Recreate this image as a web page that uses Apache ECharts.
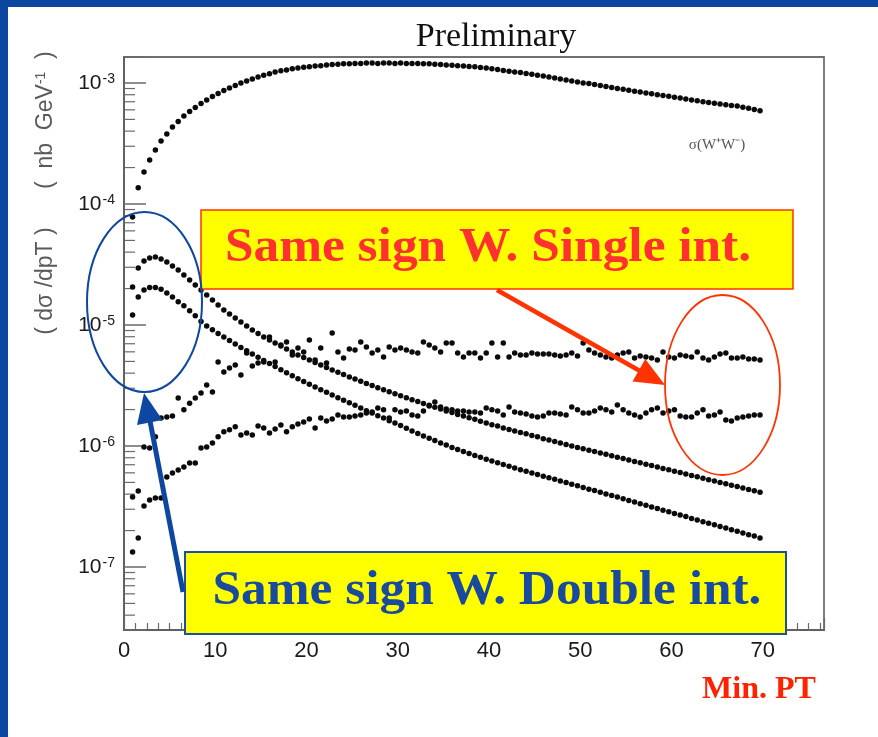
<!DOCTYPE html>
<html><head><meta charset="utf-8">
<script src="https://cdn.jsdelivr.net/npm/echarts@6/dist/echarts.min.js"></script>
<style>html,body{margin:0;padding:0;background:#fff}#c{width:878px;height:737px}</style>
</head><body><div id="c"></div><script>
// bin centres (Min. PT, GeV)
const minPT = [0.94,1.56,2.19,2.81,3.44,4.06,4.69,5.31,5.94,6.56,
7.19,7.81,8.44,9.06,9.69,10.31,10.94,11.56,12.19,12.81,
13.44,14.06,14.69,15.31,15.94,16.56,17.19,17.81,18.44,19.06,
19.69,20.31,20.94,21.56,22.19,22.81,23.44,24.06,24.69,25.31,
25.94,26.56,27.19,27.81,28.44,29.06,29.69,30.31,30.94,31.56,
32.19,32.81,33.44,34.06,34.69,35.31,35.94,36.56,37.19,37.81,
38.44,39.06,39.69,40.31,40.94,41.56,42.19,42.81,43.44,44.06,
44.69,45.31,45.94,46.56,47.19,47.81,48.44,49.06,49.69,50.31,
50.94,51.56,52.19,52.81,53.44,54.06,54.69,55.31,55.94,56.56,
57.19,57.81,58.44,59.06,59.69,60.31,60.94,61.56,62.19,62.81,
63.44,64.06,64.69,65.31,65.94,66.56,67.19,67.81,68.44,69.06,
69.69];
// sigma(W+W-)
const sigmaWW = [7.8e-5,1.36e-4,1.84e-4,2.31e-4,2.80e-4,3.32e-4,3.79e-4,4.33e-4,4.81e-4,5.34e-4,
5.81e-4,6.28e-4,6.77e-4,7.24e-4,7.73e-4,8.18e-4,8.66e-4,9.09e-4,9.53e-4,1.00e-3,
1.04e-3,1.08e-3,1.12e-3,1.16e-3,1.19e-3,1.23e-3,1.26e-3,1.28e-3,1.31e-3,1.33e-3,
1.35e-3,1.36e-3,1.38e-3,1.39e-3,1.41e-3,1.42e-3,1.43e-3,1.44e-3,1.44e-3,1.45e-3,
1.45e-3,1.46e-3,1.46e-3,1.45e-3,1.46e-3,1.46e-3,1.45e-3,1.46e-3,1.45e-3,1.45e-3,
1.45e-3,1.44e-3,1.44e-3,1.43e-3,1.42e-3,1.41e-3,1.40e-3,1.39e-3,1.38e-3,1.37e-3,
1.36e-3,1.34e-3,1.33e-3,1.31e-3,1.29e-3,1.27e-3,1.25e-3,1.235e-3,1.22e-3,1.20e-3,
1.18e-3,1.16e-3,1.14e-3,1.12e-3,1.10e-3,1.08e-3,1.06e-3,1.04e-3,1.02e-3,1.00e-3,
9.9e-4,9.7e-4,9.55e-4,9.37e-4,9.2e-4,9.02e-4,8.87e-4,8.71e-4,8.55e-4,8.41e-4,
8.27e-4,8.14e-4,8.0e-4,7.88e-4,7.76e-4,7.63e-4,7.5e-4,7.38e-4,7.25e-4,7.13e-4,
7.0e-4,6.9e-4,6.81e-4,6.7e-4,6.62e-4,6.53e-4,6.45e-4,6.31e-4,6.19e-4,6.05e-4,
5.91e-4];
// same sign W, double interaction (upper / lower)
const doubleUpper = [2.06e-5,2.96e-5,3.38e-5,3.58e-5,3.65e-5,3.51e-5,3.32e-5,3.08e-5,2.85e-5,2.59e-5,
2.35e-5,2.14e-5,1.95e-5,1.77e-5,1.61e-5,1.46e-5,1.33e-5,1.23e-5,1.14e-5,1.06e-5,
9.8e-6,9.1e-6,8.5e-6,7.96e-6,7.52e-6,7.1e-6,6.7e-6,6.34e-6,5.98e-6,5.65e-6,
5.38e-6,5.14e-6,4.9e-6,4.67e-6,4.46e-6,4.25e-6,4.06e-6,3.89e-6,3.72e-6,3.57e-6,
3.43e-6,3.29e-6,3.16e-6,3.03e-6,2.91e-6,2.81e-6,2.70e-6,2.60e-6,2.50e-6,2.41e-6,
2.33e-6,2.24e-6,2.17e-6,2.09e-6,2.02e-6,1.95e-6,1.89e-6,1.82e-6,1.77e-6,1.71e-6,
1.66e-6,1.60e-6,1.55e-6,1.50e-6,1.46e-6,1.41e-6,1.37e-6,1.33e-6,1.29e-6,1.26e-6,
1.22e-6,1.19e-6,1.15e-6,1.12e-6,1.09e-6,1.06e-6,1.03e-6,1.0e-6,9.73e-7,9.48e-7,
9.23e-7,8.99e-7,8.75e-7,8.53e-7,8.30e-7,8.07e-7,7.87e-7,7.66e-7,7.46e-7,7.26e-7,
7.08e-7,6.89e-7,6.70e-7,6.53e-7,6.36e-7,6.19e-7,6.03e-7,5.87e-7,5.71e-7,5.57e-7,
5.42e-7,5.27e-7,5.14e-7,5.00e-7,4.87e-7,4.74e-7,4.62e-7,4.50e-7,4.38e-7,4.27e-7,
4.15e-7];
const doubleLower = [1.21e-5,1.70e-5,1.95e-5,2.04e-5,2.04e-5,1.97e-5,1.84e-5,1.70e-5,1.56e-5,1.44e-5,
1.31e-5,1.19e-5,1.07e-5,9.8e-6,9.12e-6,8.5e-6,7.96e-6,7.45e-6,6.97e-6,6.52e-6,
6.12e-6,5.75e-6,5.42e-6,5.09e-6,4.81e-6,4.53e-6,4.27e-6,4.03e-6,3.80e-6,3.59e-6,
3.41e-6,3.24e-6,3.08e-6,2.92e-6,2.78e-6,2.64e-6,2.51e-6,2.39e-6,2.28e-6,2.17e-6,
2.06e-6,1.96e-6,1.87e-6,1.78e-6,1.70e-6,1.62e-6,1.55e-6,1.48e-6,1.40e-6,1.33e-6,
1.27e-6,1.21e-6,1.16e-6,1.11e-6,1.06e-6,1.02e-6,9.73e-7,9.35e-7,9.01e-7,8.67e-7,
8.36e-7,8.07e-7,7.78e-7,7.52e-7,7.26e-7,7.02e-7,6.79e-7,6.58e-7,6.37e-7,6.17e-7,
5.98e-7,5.81e-7,5.62e-7,5.46e-7,5.30e-7,5.14e-7,4.99e-7,4.83e-7,4.69e-7,4.54e-7,
4.40e-7,4.28e-7,4.14e-7,4.01e-7,3.89e-7,3.78e-7,3.66e-7,3.55e-7,3.44e-7,3.33e-7,
3.24e-7,3.13e-7,3.04e-7,2.94e-7,2.86e-7,2.77e-7,2.69e-7,2.61e-7,2.52e-7,2.44e-7,
2.37e-7,2.30e-7,2.23e-7,2.16e-7,2.10e-7,2.03e-7,1.97e-7,1.91e-7,1.85e-7,1.80e-7,
1.74e-7];
// same sign W, single interaction (upper / lower)
const singleUpper = [3.79e-7,4.25e-7,9.8e-7,9.62e-7,1.19e-6,1.70e-6,1.74e-6,1.77e-6,2.49e-6,1.99e-6,
2.26e-6,2.49e-6,2.74e-6,3.19e-6,2.79e-6,4.94e-6,4.09e-6,4.42e-6,4.67e-6,3.86e-6,
5.87e-6,4.58e-6,4.85e-6,4.94e-6,7.96e-6,4.94e-6,6.84e-6,7.24e-6,5.65e-6,6.46e-6,
5.98e-6,7.52e-6,5.14e-6,6.46e-6,4.85e-6,8.59e-6,5.98e-6,5.33e-6,6.34e-6,6.21e-6,
7.24e-6,6.58e-6,5.87e-6,6.21e-6,5.44e-6,6.58e-6,6.21e-6,6.46e-6,6.21e-6,5.98e-6,
5.87e-6,7.24e-6,6.84e-6,6.46e-6,5.98e-6,7.10e-6,7.10e-6,5.87e-6,5.44e-6,5.87e-6,
5.87e-6,5.33e-6,5.87e-6,7.10e-6,5.44e-6,7.10e-6,5.44e-6,5.87e-6,5.65e-6,5.65e-6,
5.87e-6,5.75e-6,5.75e-6,5.75e-6,5.65e-6,5.54e-6,5.65e-6,5.87e-6,5.54e-6,7.10e-6,
6.21e-6,5.87e-6,5.65e-6,5.44e-6,5.33e-6,5.65e-6,5.87e-6,5.98e-6,5.33e-6,5.54e-6,
5.44e-6,5.33e-6,5.14e-6,5.98e-6,5.44e-6,5.33e-6,5.65e-6,5.54e-6,5.44e-6,5.98e-6,
5.33e-6,5.14e-6,5.44e-6,5.75e-6,5.87e-6,5.33e-6,5.33e-6,5.44e-6,5.24e-6,5.24e-6,
5.14e-6];
const singleLower = [1.33e-7,1.74e-7,3.19e-7,3.58e-7,3.72e-7,3.72e-7,5.54e-7,5.98e-7,6.34e-7,6.70e-7,
7.24e-7,7.24e-7,9.62e-7,9.8e-7,1.06e-6,1.19e-6,1.31e-6,1.36e-6,1.44e-6,1.23e-6,
1.28e-6,1.23e-6,1.46e-6,1.41e-6,1.28e-6,1.38e-6,1.49e-6,1.31e-6,1.44e-6,1.52e-6,
1.58e-6,1.67e-6,1.41e-6,1.70e-6,1.61e-6,1.67e-6,1.80e-6,1.74e-6,1.74e-6,1.77e-6,
1.80e-6,1.87e-6,1.91e-6,2.06e-6,1.99e-6,1.70e-6,1.99e-6,1.91e-6,1.95e-6,1.80e-6,
1.77e-6,1.95e-6,2.14e-6,2.31e-6,2.10e-6,2.02e-6,1.99e-6,1.95e-6,1.95e-6,1.91e-6,
1.91e-6,1.87e-6,2.06e-6,1.99e-6,1.95e-6,1.80e-6,2.10e-6,1.91e-6,1.87e-6,1.84e-6,
1.77e-6,1.74e-6,1.77e-6,1.87e-6,1.87e-6,1.84e-6,1.80e-6,2.10e-6,1.99e-6,1.87e-6,
1.87e-6,1.95e-6,2.06e-6,1.99e-6,1.91e-6,2.18e-6,1.99e-6,1.87e-6,1.80e-6,1.74e-6,
1.87e-6,1.99e-6,2.06e-6,1.87e-6,1.95e-6,1.99e-6,1.77e-6,1.74e-6,1.74e-6,1.87e-6,
1.99e-6,1.77e-6,1.80e-6,1.91e-6,1.64e-6,1.61e-6,1.70e-6,1.74e-6,1.77e-6,1.80e-6,
1.80e-6];
const xTickLabels = [0,10,20,30,40,50,60,70];
const yDecades = [-7,-6,-5,-4,-3];

const Y_MIN = 3.015e-8, Y_MAX = 1.64e-3, X_MAX = 76.7;
const pair = ys => minPT.map((x,i)=>[x, ys[i]]);

// log minor ticks (2..9 x 10^n)
const yMinor = [];
for (const d of [-8,-7,-6,-5,-4,-3]) for (let m=2;m<=9;m++){const v=m*Math.pow(10,d); if(v>Y_MIN&&v<Y_MAX) yMinor.push([0,v]);}

const dotSeries = (name, ys) => ({
  name, type:'scatter', data: pair(ys), symbol:'circle', symbolSize:5.5,
  itemStyle:{color:'#0a0a0a', opacity:1}, silent:true, z:3
});

const chart = echarts.init(document.getElementById('c'), null, {renderer:'canvas'});
const SANS = '"Liberation Sans Narrow","Liberation Sans",Arial,sans-serif';
const SERIF = '"Liberation Serif","Times New Roman",serif';
chart.setOption({
  animation:false,
  backgroundColor:'#ffffff',
  grid:{left:124, top:57, width:700, height:573, show:true, borderColor:'#707070', borderWidth:1.8, backgroundColor:'transparent'},
  xAxis:{type:'value', min:0, max:X_MAX, interval:10,
    axisLine:{show:true, lineStyle:{color:'#5f5f5f', width:1.8}},
    axisTick:{show:true, inside:true, length:12, lineStyle:{color:'#6a6a6a', width:1.2}},
    minorTick:{show:true, splitNumber:8, length:7, lineStyle:{color:'#6a6a6a', width:1.2}},
    splitLine:{show:false},
    axisLabel:{margin:10, color:'#1a1a1a', fontSize:22, fontFamily:SANS,
      formatter: v => xTickLabels.includes(v) ? String(v) : ''}
  },
  yAxis:{type:'log', logBase:10, min:Y_MIN, max:Y_MAX,
    axisLine:{show:true, lineStyle:{color:'#5f5f5f', width:1.8}},
    axisTick:{show:true, inside:true, length:22, lineStyle:{color:'#6a6a6a', width:1.5}},
    splitLine:{show:false},
    axisLabel:{margin:9, color:'#1a1a1a', fontFamily:SANS,
      formatter: v => { const e=Math.log10(v), r=Math.round(e); if(Math.abs(e-r)>1e-6 || !yDecades.includes(r)) return ''; return '{b|10}{s|'+r+'}'; },
      rich:{ b:{fontSize:21, fontFamily:SANS, color:'#1a1a1a', verticalAlign:'top', lineHeight:21},
             s:{fontSize:14, fontFamily:SANS, color:'#1a1a1a', verticalAlign:'top', lineHeight:21, padding:[0,0,6,1]} }
    }
  },
  series:[
    dotSeries('σ(W+W-)', sigmaWW),
    dotSeries('double upper', doubleUpper),
    dotSeries('double lower', doubleLower),
    dotSeries('single upper', singleUpper),
    dotSeries('single lower', singleLower),
    { type:'custom', data:yMinor, silent:true, z:2, clip:false,
      renderItem:(p, api) => { const pt = api.coord([0, api.value(1)]);
        return {type:'line', shape:{x1:pt[0], y1:pt[1], x2:pt[0]+11, y2:pt[1]}, style:{stroke:'#6a6a6a', lineWidth:1.2}}; } }
  ],
  graphic:[
    {type:'rect', z:100, shape:{x:0,y:0,width:878,height:7}, style:{fill:'#0b46a0'}},
    {type:'rect', z:100, shape:{x:0,y:0,width:8,height:737}, style:{fill:'#0b46a0'}},
    {type:'text', z:100, x:496, y:37, style:{text:'Preliminary', font:'34px '+SERIF, fill:'#111', textAlign:'center', textVerticalAlign:'middle'}},
    {type:'text', z:100, x:46, y:193, rotation:Math.PI/2,
      style:{text:'( dσ /dpT )      (  nb  GeV{s|-1}  )', font:'23px "Liberation Sans",Arial,sans-serif', fill:'#5a5a5a', textAlign:'center', textVerticalAlign:'middle',
        rich:{s:{fontSize:14, fill:'#5a5a5a', fontFamily:'"Liberation Sans",Arial', verticalAlign:'top', padding:[0,0,9,0]}}}},
    {type:'text', z:100, x:717, y:145, style:{text:'σ(W⁺W⁻)', font:'15px '+SERIF, fill:'#555', textAlign:'center', textVerticalAlign:'middle'}},
    {type:'rect', z:100, shape:{x:201,y:210,width:592,height:79}, style:{fill:'#ffff00', stroke:'#ff3300', lineWidth:1.5}},
    {type:'text', z:101, x:488, y:249, scaleX:1.07, style:{text:'Same sign W. Single int.', font:'bold 48px '+SERIF, fill:'#ff3030', textAlign:'center', textVerticalAlign:'middle'}},
    {type:'rect', z:100, shape:{x:185,y:552,width:601,height:82}, style:{fill:'#ffff00', stroke:'#1d4ea0', lineWidth:2}},
    {type:'text', z:101, x:487, y:592, scaleX:1.07, style:{text:'Same sign W. Double int.', font:'bold 48px '+SERIF, fill:'#1a4a9e', textAlign:'center', textVerticalAlign:'middle'}},
    {type:'ellipse', z:100, shape:{cx:144.5, cy:302, rx:57.5, ry:90}, style:{fill:'none', stroke:'#0d47a1', lineWidth:2}},
    {type:'ellipse', z:100, shape:{cx:722.5, cy:385, rx:57.5, ry:90}, style:{fill:'none', stroke:'#ff3300', lineWidth:1.8}},
    {type:'polyline', z:100, shape:{points:[[497,290],[640,371]]}, style:{stroke:'#ff3300', lineWidth:4.5, fill:'none'}},
    {type:'polygon', z:100, shape:{points:[[665,385],[632.5,381.5],[645.3,358.9]]}, style:{fill:'#ff3300'}},
    {type:'polyline', z:100, shape:{points:[[183,592],[150,421]]}, style:{stroke:'#0d47a1', lineWidth:5, fill:'none'}},
    {type:'polygon', z:100, shape:{points:[[144,393],[162.5,419.9],[137,424.9]]}, style:{fill:'#0d47a1'}},
    {type:'text', z:100, x:759, y:690, style:{text:'Min. PT', font:'bold 32px '+SERIF, fill:'#ff2200', textAlign:'center', textVerticalAlign:'middle'}}
  ]
});
</script></body></html>
